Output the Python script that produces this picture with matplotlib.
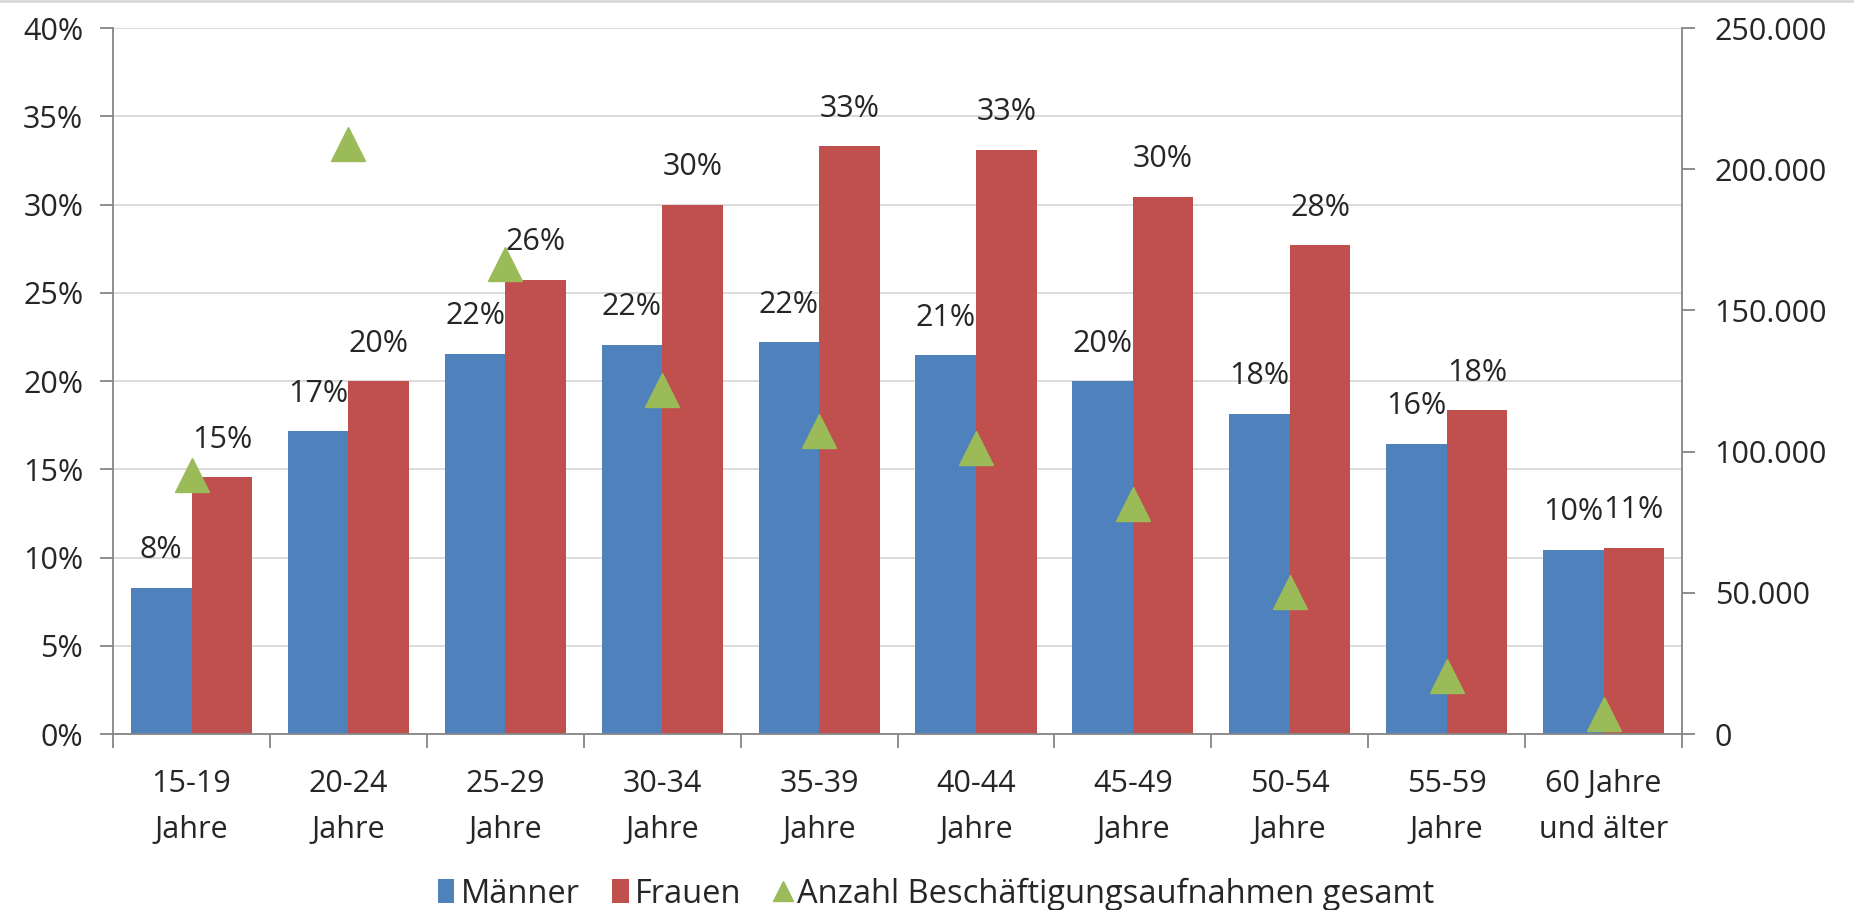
import numpy as np
import matplotlib.pyplot as plt
from matplotlib.lines import Line2D
from matplotlib.ticker import FuncFormatter, MultipleLocator

plt.rcParams['font.family'] = ['Open Sans', 'DejaVu Sans']

# data
categories = ['15-19\nJahre', '20-24\nJahre', '25-29\nJahre', '30-34\nJahre', '35-39\nJahre',
              '40-44\nJahre', '45-49\nJahre', '50-54\nJahre', '55-59\nJahre', '60 Jahre\nund älter']
maenner = [8.3, 17.15, 21.55, 22.05, 22.2, 21.45, 20.0, 18.15, 16.45, 10.45]   # %
frauen = [14.55, 20.0, 25.75, 30.0, 33.3, 33.1, 30.45, 27.7, 18.35, 10.55]     # %
aufnahmen = [91700, 208900, 166500, 121700, 107200, 101400, 81500, 50300, 20600, 7100]
legend_labels = ['Männer', 'Frauen', 'Anzahl Beschäftigungsaufnahmen gesamt']

BLUE = '#4F81BD'
RED = '#C0504D'
GREEN = '#9BBB59'
GRID = '#D9D9D9'
AXIS = '#868686'
TXT = '#262626'
FS = 22

fig = plt.figure(figsize=(18.54, 9.1), dpi=100)
ax = fig.add_axes([0.0610, 0.1934, 0.8462, 0.7758])
ax2 = ax.twinx()

x = np.arange(len(categories))
w = 0.386
bm = ax.bar(x - w / 2, maenner, w, color=BLUE, label=legend_labels[0])
bf = ax.bar(x + w / 2, frauen, w, color=RED, label=legend_labels[1])

for bars, vals in ((bm, maenner), (bf, frauen)):
    for b, v in zip(bars, vals):
        ax.annotate(f'{v:.0f}%', (b.get_x() + b.get_width() / 2, v),
                    xytext=(0, 27), textcoords='offset points',
                    ha='center', va='center', fontsize=FS, color=TXT)

ax2.plot(x, aufnahmen, ls='none', marker='^', ms=24, color=GREEN)

# left axis
ax.set_xlim(-0.5, len(categories) - 0.5)
ax.set_ylim(0, 40)
ax.yaxis.set_major_locator(MultipleLocator(5))
ax.yaxis.set_major_formatter(FuncFormatter(lambda v, _: f'{v:.0f}%'))
ax.set_axisbelow(True)
ax.yaxis.grid(True, color=GRID, lw=1.3)
ax.tick_params(axis='y', length=9.5, width=1.3, color=AXIS, pad=12,
               labelsize=FS, labelcolor=TXT)

ax.set_xticks(x)
ax.set_xticklabels(categories, linespacing=1.7)
ax.set_xticks(np.arange(-0.5, len(categories), 1), minor=True)
ax.tick_params(axis='x', which='major', length=0, pad=25, labelsize=FS, labelcolor=TXT)
ax.tick_params(axis='x', which='minor', length=10, width=1.3, color=AXIS)

for s in ('top', 'right'):
    ax.spines[s].set_visible(False)
for s in ('left', 'bottom'):
    ax.spines[s].set_color(AXIS)
    ax.spines[s].set_linewidth(1.3)

# right axis
ax2.set_ylim(0, 250000)
ax2.yaxis.set_major_locator(MultipleLocator(50000))
ax2.yaxis.set_major_formatter(FuncFormatter(lambda v, _: f'{int(v):,}'.replace(',', '.')))
ax2.tick_params(axis='y', length=9.5, width=1.3, color=AXIS, pad=14,
                labelsize=FS, labelcolor=TXT)
for s in ('top', 'left', 'bottom'):
    ax2.spines[s].set_visible(False)
ax2.spines['right'].set_color(AXIS)
ax2.spines['right'].set_linewidth(1.3)

# legend
handles = [bm, bf, Line2D([], [], ls='none', marker='^', ms=15, color=GREEN)]
fig.legend(handles, legend_labels, loc='center', bbox_to_anchor=(0.505, 0.0175),
           ncol=3, frameon=False, fontsize=23.5, labelcolor=TXT,
           handlelength=0.5, handleheight=0.75, handletextpad=0.2, columnspacing=1.0)

# thin chart border line at the top
fig.add_artist(Line2D([0, 1], [0.999, 0.999], transform=fig.transFigure, color=GRID, lw=2))

fig.savefig('out.png', dpi=100)
